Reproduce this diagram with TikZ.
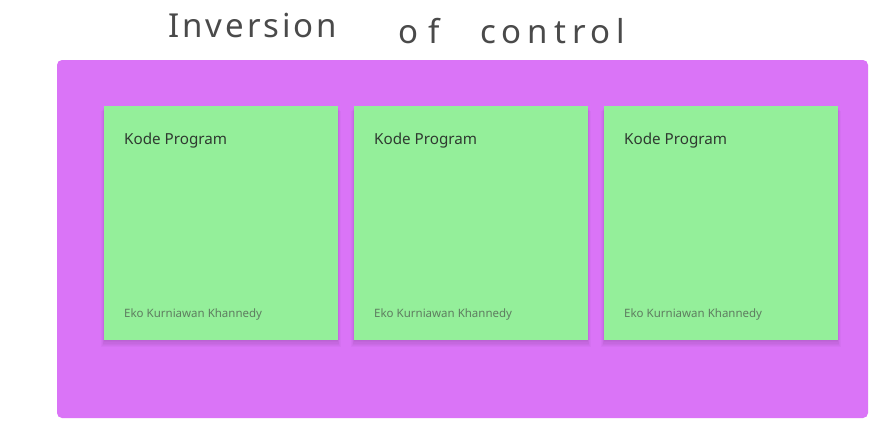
\documentclass[tikz,border=0pt]{standalone}
\usepackage{fontspec}
\setmainfont{Noto Sans}
\usetikzlibrary{positioning}
\definecolor{boardpurple}{HTML}{DA74F7}
\definecolor{stickygreen}{HTML}{94EF9A}
\definecolor{titleink}{HTML}{4A4A4A}
\definecolor{headink}{HTML}{2F3A30}
\definecolor{authink}{HTML}{5E7C60}
\tikzset{
  board/.style={fill=boardpurple, draw=none, rounded corners=5pt},
  sticky/.style={fill=stickygreen, draw=none, minimum width=234pt, minimum height=234pt, inner sep=0pt, anchor=north west},
  headtext/.style={text=headink, font=\fontsize{15.2}{18}\selectfont, anchor=base west, inner sep=0pt},
  authtext/.style={text=authink, font=\fontsize{11.5}{13}\selectfont, anchor=base west, inner sep=0pt},
  titletext/.style={text=titleink, font=\fontsize{33}{36}\selectfont, anchor=base west, inner sep=0pt}
}
\begin{document}
\begin{tikzpicture}[x=1pt,y=-1pt]
\useasboundingbox (0,0) rectangle (887,440);
\fill[white] (0,0) rectangle (887,440);
\node[titletext] (t1) at (168,37) {\addfontfeature{LetterSpace=9}Inversion};
\node[titletext] (t2) at (398,43) {\addfontfeature{LetterSpace=30}of};
\node[titletext] (t3) at (480,43) {\addfontfeature{LetterSpace=18}control};
\fill[board] (57,60) rectangle (868,418);
\foreach \i/\x in {1/104,2/354,3/604}{
  \foreach \k in {1,...,6}{
    \fill[black, opacity=0.025] (\x-\k*0.6+1,106+\k*0.8) rectangle (\x+234+\k*0.6-1,340+\k*1.2);
  }
  \node[sticky] (s\i) at (\x,106) {};
  \node[headtext] (h\i) at (\x+20,144) {Kode Program};
  \node[authtext] (a\i) at (\x+20,317) {Eko Kurniawan Khannedy};
}
\end{tikzpicture}
\end{document}
